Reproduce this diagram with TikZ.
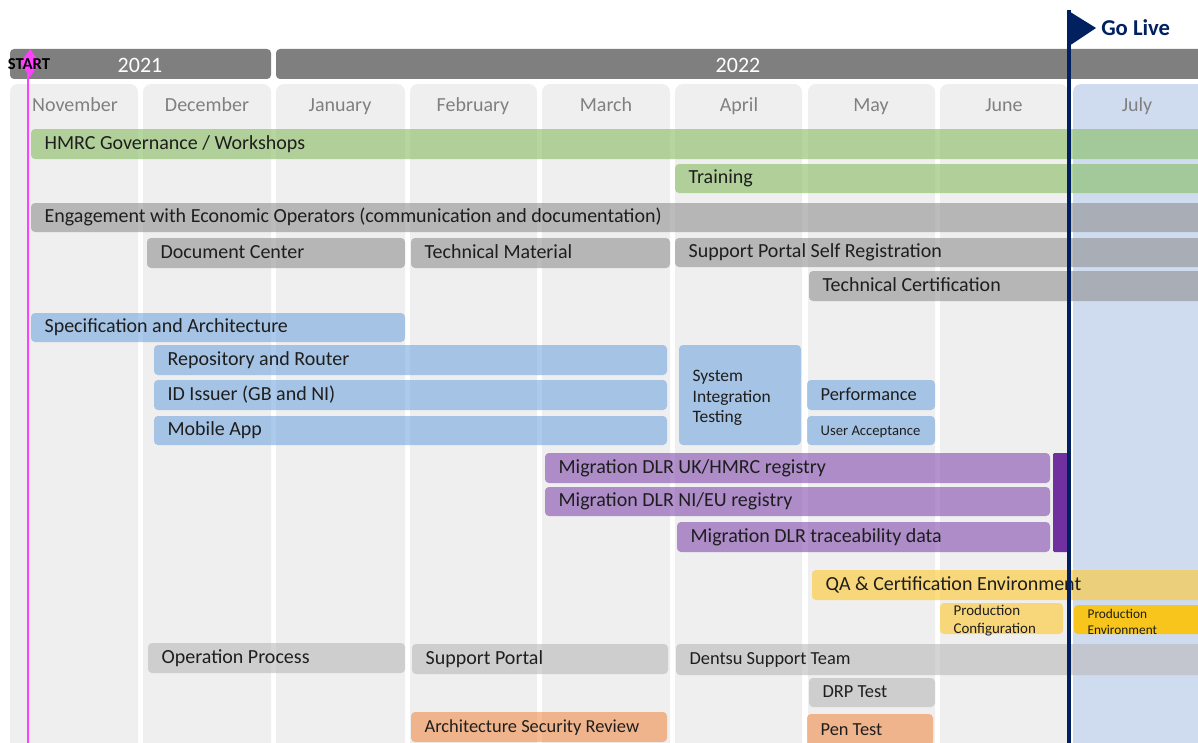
\documentclass[tikz,border=0pt]{standalone}
\usepackage{fontspec}
\setmainfont{Carlito}
\usetikzlibrary{fit,shapes.geometric}
\definecolor{colbg}{HTML}{EFEFEF}
\definecolor{julbg}{HTML}{CFDCF0}
\definecolor{yearc}{HTML}{7F7F7F}
\definecolor{monthc}{HTML}{808080}
\definecolor{navy}{HTML}{002060}
\definecolor{startc}{HTML}{FF40FF}
\definecolor{txtc}{HTML}{1E1E1E}
\definecolor{cgreen}{HTML}{86BB61}
\definecolor{cgray}{HTML}{909090}
\definecolor{cblue}{HTML}{75A7DD}
\definecolor{cpurple}{HTML}{824AAE}
\definecolor{cyellow}{HTML}{FEC72C}
\definecolor{clgray}{HTML}{BBB8B8}
\definecolor{corange}{HTML}{F28E4A}
\definecolor{cpenv}{HTML}{F8C51C}
\definecolor{cdpurple}{HTML}{7030A0}
\tikzset{
  boxbase/.style={inner sep=0pt, outer sep=0pt, rounded corners=3pt, draw=none},
  monthcol/.style={boxbase, fill=colbg, rounded corners=6pt},
  julycol/.style={boxbase, fill=julbg, rounded corners=6pt},
  monthlbl/.style={text=monthc, font=\fontsize{15}{18}\selectfont, inner sep=0pt, anchor=base},
  yearbar/.style={boxbase, fill=yearc},
  yearlbl/.style={text=white, font=\fontsize{16.5}{19}\selectfont, inner sep=0pt},
  gbar/.style={boxbase, fill=cgreen, fill opacity=0.6},
  graybar/.style={boxbase, fill=cgray, fill opacity=0.6},
  bbar/.style={boxbase, fill=cblue, fill opacity=0.6},
  pbar/.style={boxbase, fill=cpurple, fill opacity=0.6},
  ybar/.style={boxbase, fill=cyellow, fill opacity=0.6},
  lgbar/.style={boxbase, fill=clgray, fill opacity=0.6},
  obar/.style={boxbase, fill=corange, fill opacity=0.6},
  penvbar/.style={boxbase, fill=cpenv},
  bartext/.style={text=txtc, inner sep=0pt, anchor=west, yshift=-1.5pt, font=\fontsize{15}{18}\selectfont},
  onetext/.style={bartext, text height=0.68em, text depth=0.2em},
  medtext/.style={onetext, font=\fontsize{13.8}{16}\selectfont},
}
% name, x1, y1, x2, y2, style, text style, text
\newcommand\ganttbar[8]{%
  \node[#6, fit={(#2,#3) (#4,#5)}] (#1) {};
  \node[#7] (#1-t) at ([xshift=10pt]#1.west) {#8};
}
\begin{document}
\begin{tikzpicture}[x=0.75pt,y=-0.75pt]
\useasboundingbox (0,0) rectangle (1198,742);
\clip (0,0) rectangle (1198,742);
% month columns
\node[monthcol, fit={(10,84) (138,770)}] (nov) {};
\node[monthcol, fit={(143,84) (271,770)}] (dec) {};
\node[monthcol, fit={(276,84) (405,770)}] (jan) {};
\node[monthcol, fit={(410,84) (537,770)}] (feb) {};
\node[monthcol, fit={(542,84) (670,770)}] (mar) {};
\node[monthcol, fit={(675,84) (802,770)}] (apr) {};
\node[monthcol, fit={(808,84) (935,770)}] (may) {};
\node[monthcol, fit={(940,84) (1068,770)}] (jun) {};
\node[julycol, fit={(1073,84) (1215,770)}] (jul) {};
\node[monthlbl] (nov-t) at (75,111) {November};
\node[monthlbl] (dec-t) at (207,111) {December};
\node[monthlbl] (jan-t) at (340,111) {January};
\node[monthlbl] (feb-t) at (473,111) {February};
\node[monthlbl] (mar-t) at (606,111) {March};
\node[monthlbl] (apr-t) at (739,111) {April};
\node[monthlbl] (may-t) at (871,111) {May};
\node[monthlbl] (jun-t) at (1004,111) {June};
\node[monthlbl] (jul-t) at (1137,111) {July};
% years
\node[yearbar, fit={(10,49) (271,79)}] (y21) {};
\node[yearbar, fit={(276,49) (1215,79)}] (y22) {};
\node[yearlbl] (y21-t) at (140,65) {2021};
\node[yearlbl] (y22-t) at (738,65) {2022};
% bars
\ganttbar{hmrc}{31}{129}{1215}{159}{gbar}{onetext}{HMRC Governance / Workshops}
\ganttbar{train}{675}{164}{1215}{193}{gbar}{onetext}{Training}
\ganttbar{engage}{31}{203}{1215}{232}{graybar}{onetext}{Engagement with Economic Operators (communication and documentation)}
\ganttbar{doccen}{147}{238}{405}{268}{graybar}{onetext}{Document Center}
\ganttbar{techmat}{411}{238}{670}{268}{graybar}{onetext}{Technical Material}
\ganttbar{spsr}{675}{238}{1215}{267}{graybar}{onetext}{Support Portal Self Registration}
\ganttbar{techcert}{809}{271}{1215}{301}{graybar}{onetext}{Technical Certification}
\ganttbar{spec}{31}{313}{405}{342}{bbar}{onetext}{Specification and Architecture}
\ganttbar{repo}{154}{345}{667}{375}{bbar}{onetext}{Repository and Router}
\ganttbar{idiss}{154}{380}{667}{410}{bbar}{onetext}{ID Issuer (GB and NI)}
\ganttbar{mobile}{154}{416}{667}{445}{bbar}{onetext}{Mobile App}
\ganttbar{sit}{679}{345}{801}{445}{bbar}{bartext, yshift=-0.8pt, align=left, font=\fontsize{13.1}{15.4}\selectfont}{System\\Integration\\Testing}
\ganttbar{perf}{807}{380}{935}{410}{bbar}{medtext}{Performance}
\ganttbar{uat}{807}{416}{935}{445}{bbar}{onetext, font=\fontsize{11}{13}\selectfont}{User Acceptance}
\ganttbar{mig1}{545}{453}{1050}{483}{pbar}{onetext}{Migration DLR UK/HMRC registry}
\ganttbar{mig2}{545}{487}{1050}{516}{pbar}{onetext}{Migration DLR NI/EU registry}
\ganttbar{mig3}{677}{522}{1050}{552}{pbar}{onetext}{Migration DLR traceability data}
\node[boxbase, rounded corners=1pt, fill=cdpurple, fit={(1053,453) (1070,552)}] (migend) {};
\ganttbar{qa}{812}{570}{1215}{600}{ybar}{onetext}{QA \& Certification Environment}
\ganttbar{pconf}{940}{603}{1063}{634}{ybar}{bartext, align=left, font=\fontsize{11.2}{13.5}\selectfont}{Production\\Configuration}
\ganttbar{penv}{1074}{605}{1215}{634}{penvbar}{bartext, yshift=-0.3pt, align=left, font=\fontsize{10}{11.3}\selectfont}{Production\\Environment}
\ganttbar{opproc}{148}{643}{405}{673}{lgbar}{onetext}{Operation Process}
\ganttbar{sport}{412}{644}{668}{674}{lgbar}{onetext}{Support Portal}
\ganttbar{dentsu}{676}{644}{1215}{675}{lgbar}{medtext}{Dentsu Support Team}
\ganttbar{drp}{809}{678}{935}{707}{lgbar}{medtext}{DRP Test}
\ganttbar{asr}{411}{712}{667}{742}{obar}{medtext}{Architecture Security Review}
\ganttbar{pen}{807}{714}{933}{746}{obar}{medtext}{Pen Test}
% start marker
\coordinate (starttop) at (28,55);
\coordinate (startbot) at (28,745);
\draw[startc, line width=2pt] (starttop) -- (startbot);
\node[diamond, fill=startc, inner sep=0pt, minimum width=15pt, minimum height=21pt] (startdia) at (30,63) {};
\node[inner sep=0pt, text=black, font=\bfseries\fontsize{12.5}{14}\selectfont] (start-t) at (29,64) {START};
% go live
\coordinate (gltop) at (1069,10);
\coordinate (glbot) at (1069,745);
\coordinate (gltip) at (1096,28);
\coordinate (glbase) at (1069,46);
\draw[navy, line width=3pt] (gltop) -- (glbot);
\fill[navy] ([xshift=-1.5pt]gltop) -- (gltip) -- (glbase) -- cycle;
\node[inner sep=0pt, anchor=west, text=navy, font=\bfseries\fontsize{17}{20}\selectfont] (golive) at (1101,28) {Go Live};
\end{tikzpicture}
\end{document}
